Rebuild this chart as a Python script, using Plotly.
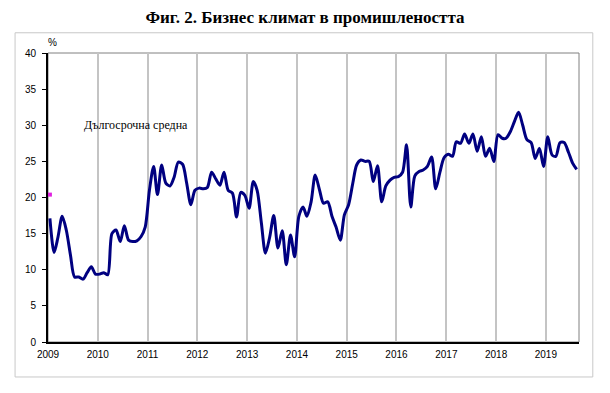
import pandas as pd
import plotly.graph_objects as go

# ---- data (monthly, Jan 2009 - Aug 2019) ----
start_month = "2009-01-01"
values = [
    # 2009
    17.1, 12.4, 14.5, 17.4, 15.5, 12.0, 9.0, 9.0, 8.7, 9.6, 10.4, 9.4,
    # 2010
    9.4, 9.6, 9.3, 15.0, 15.5, 13.9, 16.1, 14.1, 13.9, 14.0, 14.6, 15.9,
    # 2011
    21.0, 24.3, 20.4, 24.5, 22.0, 21.6, 22.8, 24.9, 24.6, 22.0, 19.0, 21.0,
    # 2012
    21.3, 21.2, 21.4, 23.5, 22.6, 21.7, 23.5, 21.0, 20.6, 17.3, 20.7, 20.3,
    # 2013
    18.5, 22.2, 21.0, 16.5, 12.3, 14.5, 17.5, 13.0, 15.4, 10.7, 14.8, 11.8,
    # 2014
    17.4, 18.7, 17.4, 19.4, 23.1, 21.1, 19.2, 19.4, 17.4, 15.9, 14.1, 17.6,
    # 2015
    19.0, 22.0, 24.5, 25.2, 25.0, 25.0, 22.2, 24.4, 19.4, 21.6, 22.4, 22.8,
    # 2016
    22.9, 23.5, 27.3, 18.7, 23.0, 23.6, 23.8, 24.3, 25.6, 21.2, 23.5, 25.5,
    # 2017
    26.0, 25.7, 27.7, 27.5, 28.8, 27.5, 28.8, 26.4, 28.4, 25.7, 26.8, 25.0,
    # 2018
    28.7, 28.2, 28.2, 29.1, 30.5, 31.8, 30.0, 28.0, 27.6, 25.4, 26.8, 24.3,
    # 2019
    28.4, 25.9, 25.7, 27.6, 27.6, 26.3, 24.8, 23.9,
]
long_term_avg = 20.4
years = list(range(2009, 2020))

title_text = "Фиг. 2. Бизнес климат в промишлеността"
avg_label = "Дългосрочна средна"
unit_label = "%"

months = pd.date_range(start_month, periods=len(values), freq="MS") + pd.Timedelta(days=14)
x_end = pd.Timestamp(start_month) + pd.DateOffset(months=len(values))

fig = go.Figure()
fig.add_trace(go.Scatter(
    x=months, y=values, mode="lines",
    line=dict(color="#000080", width=3, shape="spline", smoothing=0.8),
    showlegend=False, hoverinfo="skip",
))
fig.add_trace(go.Scatter(
    x=[months[0]], y=[long_term_avg], mode="markers",
    marker=dict(color="#e020e0", size=4, symbol="square"),
    showlegend=False, hoverinfo="skip",
))

fig.update_layout(
    width=594, height=377,
    margin=dict(l=40, r=23, t=45, b=43),
    paper_bgcolor="white", plot_bgcolor="white",
    title=dict(text="<b>" + title_text + "</b>", x=0.5, xanchor="center",
               y=1 - 9 / 377, yanchor="middle",
               font=dict(family="Liberation Serif", size=17, color="black")),
    xaxis=dict(
        type="date",
        range=[pd.Timestamp(start_month), x_end],
        tickvals=[pd.Timestamp(f"{y}-01-01") for y in years],
        ticktext=[str(y) for y in years],
        showgrid=True, gridcolor="#c4c4c4", gridwidth=2,
        showline=True, linecolor="black", linewidth=2,
        ticks="", zeroline=False, ticklabelstandoff=2,
        tickfont=dict(family="Liberation Sans", size=10, color="black"),
    ),
    yaxis=dict(
        range=[0, 40], dtick=5, showgrid=False, zeroline=False,
        showline=True, linecolor="black", linewidth=2,
        ticks="outside", ticklen=4, tickwidth=1, tickcolor="black",
        ticklabelstandoff=4,
        tickfont=dict(family="Liberation Sans", size=10, color="black"),
    ),
    shapes=[
        # plot-area frame (top/right gray)
        dict(type="rect", xref="paper", yref="paper", x0=0, x1=1, y0=0, y1=1,
             line=dict(color="#808080", width=1), layer="below"),
        # outer chart border
        dict(type="rect", xref="paper", yref="paper",
             x0=-0.062, x1=1.026, y0=-0.121, y1=1.070,
             line=dict(color="#c8c8c8", width=1), layer="below"),
    ],
    annotations=[
        dict(text=avg_label, xref="paper", yref="y", x=(82 - 48) / 531, y=30,
             xanchor="left", yanchor="middle", showarrow=False,
             font=dict(family="Liberation Serif", size=12, color="black")),
        dict(text=unit_label, xref="paper", yref="paper", x=4 / 531, y=1 + 11 / 289,
             xanchor="center", yanchor="middle", showarrow=False,
             font=dict(family="Liberation Sans", size=10, color="black")),
    ],
)

fig.write_html("out.html")
